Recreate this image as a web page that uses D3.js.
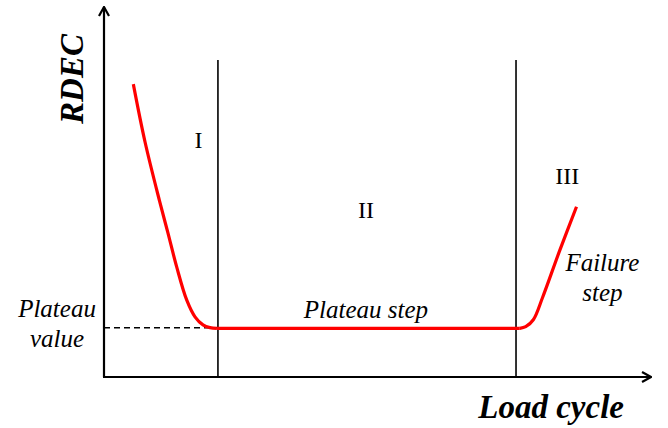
<!DOCTYPE html>
<html>
<head>
<meta charset="utf-8">
<script src="https://cdn.jsdelivr.net/npm/d3@7"></script>
<style>
html,body{margin:0;padding:0;background:#fff;}
svg{display:block;}
text{font-family:"Times New Roman","Liberation Serif",Times,serif;fill:#000;}
</style>
</head>
<body>
<svg id="chart" width="668" height="428"></svg>
<script>
// Schematic data (normalized units 0-100 on both axes)
const stageI = [[5.43,79.8],[7.59,64.1],[10.28,48.0],[11.85,39.2],[13.46,30.0],[15.31,21.0],[16.85,16.4],[18.33,14.2],[19.63,13.45],[20.9,13.25]];
const stageII = [[20.9,13.25],[48.0,13.25],[77.0,13.25]];
const stageIII = [[77.0,13.25],[78.1,13.7],[79.5,15.6],[81.2,21.6],[84.4,34.5],[87.5,46.4]];
const boundaries = [21.1, 76.3];
const boundaryTop = 86.4;
const plateauValue = 13.4;
const stageLabels = [
  {text:"I",   x:17.5, y:62.4},
  {text:"II",  x:48.5, y:43.3},
  {text:"III", x:85.8, y:52.6}
];
const axisLabels = {x:"Load cycle", y:"RDEC"};
const noteLabels = [
  {lines:["Plateau step"], x:48.5, y:16.1},
  {lines:["Plateau","value"], x:-8.7, y:16.3},
  {lines:["Failure","step"], x:92.3, y:28.9}
];

const svg = d3.select("#chart");
const x = d3.scaleLinear().domain([0,100]).range([104,644]);
const y = d3.scaleLinear().domain([0,100]).range([377,10]);

// arrow marker
const defs = svg.append("defs");
defs.append("marker").attr("id","arr").attr("viewBox","0 0 12 12")
  .attr("refX",11).attr("refY",6).attr("markerWidth",12).attr("markerHeight",12)
  .attr("markerUnits","userSpaceOnUse").attr("orient","auto")
  .append("path").attr("d","M2,1 L11,6 L2,11").attr("fill","none")
  .attr("stroke","#000").attr("stroke-width",2.2).attr("stroke-linejoin","miter");

// axes
svg.append("line").attr("x1",x(0)).attr("y1",y(0)).attr("x2",x(0)).attr("y2",y(100)-3)
  .attr("stroke","#000").attr("stroke-width",2.2).attr("marker-end","url(#arr)");
svg.append("line").attr("x1",x(0)-1).attr("y1",y(0)).attr("x2",x(101.3)).attr("y2",y(0))
  .attr("stroke","#000").attr("stroke-width",2.2).attr("marker-end","url(#arr)");

// boundaries
svg.selectAll(".bnd").data(boundaries).join("line").attr("class","bnd")
  .attr("x1",d=>x(d)).attr("x2",d=>x(d)).attr("y1",y(0)).attr("y2",y(boundaryTop))
  .attr("stroke","#000").attr("stroke-width",1.6);

// dashed plateau value line
svg.append("line").attr("x1",x(0)).attr("x2",x(boundaries[0])).attr("y1",y(plateauValue)).attr("y2",y(plateauValue))
  .attr("stroke","#000").attr("stroke-width",1.5).attr("stroke-dasharray","6,4");

// red curve
const line = d3.line().x(d=>x(d[0])).y(d=>y(d[1])).curve(d3.curveCatmullRom.alpha(0.5));
[stageI, stageII, stageIII].forEach(s=>{
  svg.append("path").attr("d",line(s)).attr("fill","none").attr("stroke","#ff0000")
    .attr("stroke-width",3.2).attr("stroke-linecap","butt").attr("stroke-linejoin","round");
});

// stage labels
svg.selectAll(".stg").data(stageLabels).join("text").attr("class","stg")
  .attr("x",d=>x(d.x)).attr("y",d=>y(d.y)).attr("text-anchor","middle")
  .style("font-size","24px").text(d=>d.text);

// note labels
noteLabels.forEach(n=>{
  const t = svg.append("text").attr("text-anchor","middle").style("font-size","25px").style("font-style","italic");
  n.lines.forEach((l,i)=>{
    t.append("tspan").attr("x",x(n.x)).attr("y",y(n.y)+i*30).text(l);
  });
});

// axis titles
svg.append("text").attr("x",x(82.8)).attr("y",418).attr("text-anchor","middle")
  .style("font-size","33px").style("font-weight","bold").style("font-style","italic").text(axisLabels.x);
svg.append("text").attr("transform","translate(83,79) rotate(-90)").attr("text-anchor","middle")
  .style("font-size","33px").style("font-weight","bold").style("font-style","italic").text(axisLabels.y);
</script>
</body>
</html>
